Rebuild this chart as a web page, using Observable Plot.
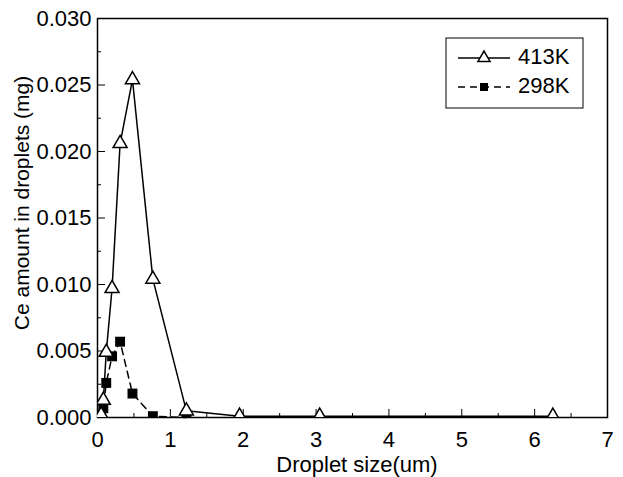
<!DOCTYPE html>
<html><head><meta charset="utf-8">
<script src="https://cdn.jsdelivr.net/npm/d3@7"></script>
<script src="https://cdn.jsdelivr.net/npm/@observablehq/plot@0.6"></script>
<style>
body{margin:0;background:#fff;}
#chart{position:relative;width:623px;height:477px;}
</style></head>
<body><div id="chart"></div>
<script>
const sizes = [0.05, 0.08, 0.12, 0.2, 0.31, 0.48, 0.76, 1.22, 1.95, 3.05, 6.25];
const ce413 = [0.0002, 0.0013, 0.0049, 0.0097, 0.0206, 0.0254, 0.0104, 0.0005, 0.0001, 0.0001, 0.0001];
const ce298 = [0.0001, 0.0007, 0.0026, 0.0046, 0.0057, 0.0018, 0.0001, 0.0000];
const seriesNames = ["413K", "298K"];
const yTicks = [0, 0.005, 0.010, 0.015, 0.020, 0.025, 0.030];
const xTicks = [0, 1, 2, 3, 4, 5, 6, 7];

const d413 = sizes.map((x, i) => ({x, y: ce413[i]}));
const d298 = ce298.map((y, i) => ({x: sizes[i], y}));

const font = "'Liberation Sans', sans-serif";

const plot = Plot.plot({
  width: 623, height: 477,
  marginLeft: 97, marginRight: 16, marginTop: 18, marginBottom: 60,
  x: {domain: [0, 7]},
  y: {domain: [0, 0.03]},
  style: {fontSize: "22px", color: "#000", fontFamily: font},
  marks: [
    Plot.axisY({ticks: yTicks, tickSize: -8, tickPadding: 14, tickFormat: d3.format(".3f"), label: null}),
    Plot.axisY({ticks: d3.range(0.0025, 0.03, 0.005), tickSize: -4, tickFormat: () => "", label: null}),
    Plot.axisX({ticks: xTicks, tickSize: -8, tickPadding: 22, tickFormat: d3.format("d"), label: null}),
    Plot.axisX({ticks: d3.range(0.5, 7, 1), tickSize: -4, tickFormat: () => "", label: null}),
    Plot.frame({stroke: "#000", strokeWidth: 1.5}),
    Plot.line(d298, {x: "x", y: "y", stroke: "#000", strokeWidth: 1.5, strokeDasharray: "7,5"}),
    Plot.line(d413, {x: "x", y: "y", stroke: "#000", strokeWidth: 1.5}),
    Plot.dot(d298, {x: "x", y: "y", symbol: "square", r: 5.6, fill: "#000", stroke: "none", clip: true}),
    Plot.dot(d413, {x: "x", y: "y", symbol: "triangle", r: 5.2, fill: "#fff", stroke: "#000", strokeWidth: 1.5, clip: true})
  ]
});
document.getElementById("chart").appendChild(plot);

const svg = d3.select(plot);
// axis titles
svg.append("text").attr("transform", "translate(23,203) rotate(-90)")
  .attr("text-anchor", "middle").attr("dominant-baseline", "middle")
  .style("font-size", "21px")
  .text("Ce amount in droplets (mg)");
svg.append("text").attr("x", 357).attr("y", 466)
  .attr("text-anchor", "middle").attr("dominant-baseline", "middle")
  .style("font-size", "22px")
  .text("Droplet size(um)");

// legend
const lg = svg.append("g");
lg.append("rect").attr("x", 446).attr("y", 38).attr("width", 137).attr("height", 70)
  .attr("fill", "#fff").attr("stroke", "#000").attr("stroke-width", 1);
const sym = [d3.symbolTriangle, d3.symbolSquare];
seriesNames.forEach((name, i) => {
  const cy = 58 + i * 29;
  lg.append("line").attr("x1", 458).attr("x2", 510).attr("y1", cy).attr("y2", cy)
    .attr("stroke", "#000").attr("stroke-width", 1.5)
    .attr("stroke-dasharray", i ? "7,5" : null);
  lg.append("path").attr("transform", `translate(484,${cy})`)
    .attr("d", d3.symbol(sym[i], Math.PI * 4.5 ** 2)())
    .attr("fill", i ? "#000" : "#fff").attr("stroke", i ? "none" : "#000").attr("stroke-width", 1.5);
  lg.append("text").attr("x", 518).attr("y", cy).attr("text-anchor", "start")
    .attr("dominant-baseline", "middle")
    .style("font-size", "22px").text(name);
});
</script></body></html>
